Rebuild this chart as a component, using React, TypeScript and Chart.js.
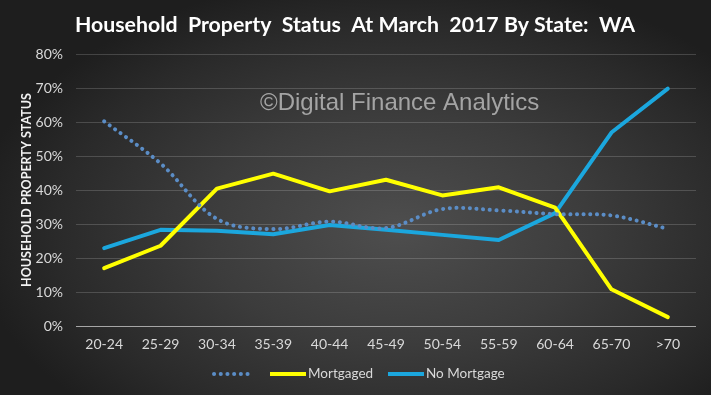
import React, { useEffect, useRef } from "react";
import { Chart, registerables } from "chart.js";

Chart.register(...registerables);

const categories = ["20-24", "25-29", "30-34", "35-39", "40-44", "45-49", "50-54", "55-59", "60-64", "65-70", ">70"];
const ownedOutright = [60.2, 47.8, 31.5, 28.5, 30.7, 28.8, 34.4, 34.0, 32.9, 32.5, 28.6];
const mortgaged = [17.0, 23.6, 40.4, 44.8, 39.6, 43.0, 38.4, 40.8, 34.8, 10.8, 2.6];
const noMortgage = [22.9, 28.3, 28.0, 27.0, 29.7, 28.3, 26.8, 25.3, 33.2, 56.9, 69.8];
const seriesLabels = ["", "Mortgaged", "No Mortgage"];
const yTicksMax = 80;
const yStep = 10;

const titleText = "Household  Property  Status  At March  2017 By State:  WA";
const yTitleText = "HOUSEHOLD PROPERTY STATUS";
const watermarkText = "\u00A9Digital Finance Analytics";

const DOT_COLOR = "#5b8dc6";
const YELLOW = "#ffff00";
const BLUE = "#1ba7de";
const TICK_FONT = "Lato";

export default function App() {
  const ref = useRef<HTMLCanvasElement | null>(null);

  useEffect(() => {
    document.body.style.margin = "0";
    const canvas = ref.current;
    if (!canvas) return;

    const decor = {
      id: "decor",
      beforeDatasetsDraw(chart: any) {
        const ctx = chart.ctx;
        ctx.save();
        ctx.font = "24px 'Liberation Sans', Arial, sans-serif";
        ctx.fillStyle = "#a4a4a4";
        ctx.textAlign = "left";
        ctx.textBaseline = "alphabetic";
        ctx.fillText(watermarkText, 260, 110);
        ctx.restore();
      },
      afterDraw(chart: any) {
        const ctx = chart.ctx;
        ctx.save();
        // title
        ctx.font = "bold 21.3px Lato, sans-serif";
        ctx.fillStyle = "#ffffff";
        ctx.textAlign = "center";
        ctx.textBaseline = "alphabetic";
        ctx.fillText(titleText, 355, 32);
        // y title
        ctx.save();
        ctx.translate(31, 190);
        ctx.rotate(-Math.PI / 2);
        ctx.font = "bold 12.5px Lato, sans-serif";
        ctx.fillStyle = "#f2f2f2";
        ctx.textAlign = "center";
        ctx.textBaseline = "alphabetic";
        ctx.fillText(yTitleText, 0, 0);
        ctx.restore();
        // legend
        const ly = 374;
        ctx.lineCap = "round";
        ctx.lineWidth = 4;
        ctx.strokeStyle = DOT_COLOR;
        ctx.setLineDash([0.1, 6.6]);
        ctx.beginPath();
        ctx.moveTo(214, ly);
        ctx.lineTo(249, ly);
        ctx.stroke();
        ctx.setLineDash([]);
        ctx.lineCap = "butt";
        ctx.font = `13.5px ${TICK_FONT}, sans-serif`;
        ctx.fillStyle = "#d9d9d9";
        ctx.textAlign = "left";
        ctx.textBaseline = "middle";
        ctx.strokeStyle = YELLOW;
        ctx.beginPath();
        ctx.moveTo(270, ly);
        ctx.lineTo(306, ly);
        ctx.stroke();
        ctx.fillText(seriesLabels[1], 308, ly);
        ctx.strokeStyle = BLUE;
        ctx.beginPath();
        ctx.moveTo(388, ly);
        ctx.lineTo(424, ly);
        ctx.stroke();
        ctx.fillText(seriesLabels[2], 426, ly);
        ctx.restore();
      },
    };

    const chart = new Chart(canvas, {
      type: "line",
      data: {
        labels: categories,
        datasets: [
          {
            label: seriesLabels[0],
            data: ownedOutright,
            borderColor: DOT_COLOR,
            borderWidth: 4,
            borderDash: [0.1, 6.6],
            borderCapStyle: "round",
            tension: 0.35,
            pointRadius: 0,
            fill: false,
          },
          {
            label: seriesLabels[1],
            data: mortgaged,
            borderColor: YELLOW,
            borderWidth: 4,
            borderJoinStyle: "round",
            borderCapStyle: "round",
            tension: 0,
            pointRadius: 0,
            fill: false,
          },
          {
            label: seriesLabels[2],
            data: noMortgage,
            borderColor: BLUE,
            borderWidth: 4,
            borderJoinStyle: "round",
            borderCapStyle: "round",
            tension: 0,
            pointRadius: 0,
            fill: false,
          },
        ],
      },
      options: {
        responsive: false,
        animation: false,
        events: [],
        layout: { padding: { top: 54, right: 15, bottom: 0, left: 0 } },
        plugins: {
          legend: { display: false },
          title: { display: false },
          tooltip: { enabled: false },
        },
        scales: {
          x: {
            offset: true,
            grid: { display: false, drawTicks: false },
            border: { display: false },
            ticks: {
              color: "#d9d9d9",
              font: { family: TICK_FONT, size: 14 },
              padding: 10,
              maxRotation: 0,
              autoSkip: false,
            },
            afterFit(scale: any) {
              scale.height = 69;
            },
          },
          y: {
            min: 0,
            max: yTicksMax,
            grid: {
              drawTicks: false,
              color: (c: any) => (c.tick && c.tick.value === 0 ? "#a6a6a6" : "rgba(255,255,255,0.17)"),
              lineWidth: 1,
            },
            border: { display: false },
            ticks: {
              stepSize: yStep,
              color: "#d9d9d9",
              font: { family: TICK_FONT, size: 14 },
              padding: 13,
              callback: (v: any) => v + "%",
            },
            afterFit(scale: any) {
              scale.width = 76;
            },
          },
        },
      },
      plugins: [decor],
    });

    return () => chart.destroy();
  }, []);

  return (
    <div
      style={{
        width: 711,
        height: 395,
        background:
          "radial-gradient(ellipse 60% 65% at 56% 58%, #4e4e4e 0%, #3c3c3c 45%, #2a2a2a 80%, #1e1e1e 100%)",
      }}
    >
      <canvas ref={ref} width={711} height={395} style={{ display: "block" }} />
    </div>
  );
}
